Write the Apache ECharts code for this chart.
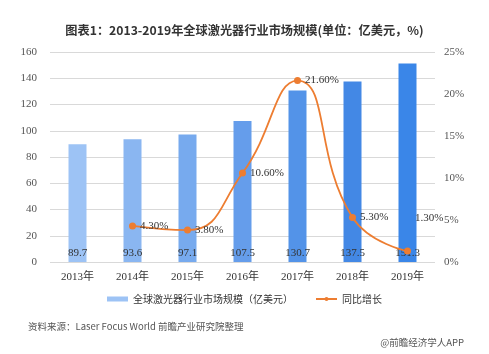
<!DOCTYPE html>
<html>
<head>
<meta charset="utf-8">
<script src="https://cdn.jsdelivr.net/npm/echarts@6/dist/echarts.min.js"></script>
<style>
  html, body { margin: 0; padding: 0; background: #fff; }
  #chart { width: 489px; height: 354px; }
</style>
</head>
<body>
<div id="chart"></div>
<script>
// 数据
var years = ['2013年', '2014年', '2015年', '2016年', '2017年', '2018年', '2019年'];
var marketSize = [89.7, 93.6, 97.1, 107.5, 130.7, 137.5, 151.3];
var growthRate = [null, 4.30, 3.80, 10.60, 21.60, 5.30, 1.30];
var barColors = ['#9dc3f5', '#8ab6f1', '#77aaee', '#659deb', '#5393e8', '#4388e5', '#3a86e8'];

var serif = '"Liberation Serif", "Noto Sans CJK SC", serif';
var sans = '"Noto Sans CJK SC", sans-serif';

var chart = echarts.init(document.getElementById('chart'));

var option = {
  animation: false,
  title: [
    {
      text: '图表1：2013-2019年全球激光器行业市场规模(单位：亿美元，%)',
      left: 'center',
      top: 19,
      textStyle: { fontSize: 12.2, fontWeight: 'bold', color: '#333', fontFamily: sans }
    },
    {
      text: '资料来源：Laser Focus World 前瞻产业研究院整理',
      left: 23,
      top: 317,
      textStyle: { fontSize: 9.5, fontWeight: 'normal', color: '#555', fontFamily: sans }
    },
    {
      text: '@前瞻经济学人APP',
      right: 20,
      top: 333,
      textStyle: { fontSize: 9.5, fontWeight: 'normal', color: '#555', fontFamily: sans }
    }
  ],
  grid: { left: 50, right: 54, top: 52, bottom: 92 },
  legend: {
    bottom: 45,
    left: 'center',
    itemGap: 22,
    itemWidth: 21,
    itemHeight: 5,
    textStyle: { fontSize: 10, color: '#333', fontFamily: sans },
    data: [
      { name: '全球激光器行业市场规模（亿美元）', icon: 'rect', itemStyle: { color: '#9dc3f5' } },
      { name: '同比增长' }
    ]
  },
  xAxis: {
    type: 'category',
    data: years,
    axisLine: { show: false },
    axisTick: { show: false },
    axisLabel: { color: '#333', fontSize: 11, fontFamily: serif, margin: 10 }
  },
  yAxis: [
    {
      type: 'value',
      min: 0, max: 160, interval: 20,
      axisLine: { show: false },
      axisTick: { show: false },
      axisLabel: { color: '#555', fontSize: 11, fontFamily: serif, margin: 13 },
      splitLine: { lineStyle: { color: '#d9d9d9' } }
    },
    {
      type: 'value',
      min: 0, max: 25, interval: 5,
      axisLine: { show: false },
      axisTick: { show: false },
      axisLabel: { color: '#555', fontSize: 11, fontFamily: serif, margin: 9, formatter: '{value}%' },
      splitLine: { show: false }
    }
  ],
  series: [
    {
      name: '全球激光器行业市场规模（亿美元）',
      type: 'bar',
      barWidth: 18,
      data: marketSize.map(function (v, i) {
        return { value: v, itemStyle: { color: barColors[i] } };
      }),
      label: {
        show: true,
        position: 'insideBottom',
        distance: 3,
        color: '#333',
        fontSize: 11,
        fontFamily: serif
      }
    },
    {
      name: '同比增长',
      type: 'line',
      yAxisIndex: 1,
      smooth: 0.5,
      symbol: 'circle',
      symbolSize: 7,
      connectNulls: true,
      data: growthRate.map(function (v, i) {
        var d = { value: v };
        if (i === growthRate.length - 1) d.label = { offset: [0, -33] };
        return d;
      }),
      itemStyle: { color: '#ed7d31' },
      lineStyle: { color: '#ed7d31', width: 1.8 },
      label: {
        show: true,
        position: 'right',
        distance: 4,
        color: '#333',
        fontSize: 11,
        fontFamily: serif,
        formatter: function (p) { return p.value.toFixed(2) + '%'; }
      },
      z: 5
    }
  ]
};

chart.setOption(option);
</script>
</body>
</html>
